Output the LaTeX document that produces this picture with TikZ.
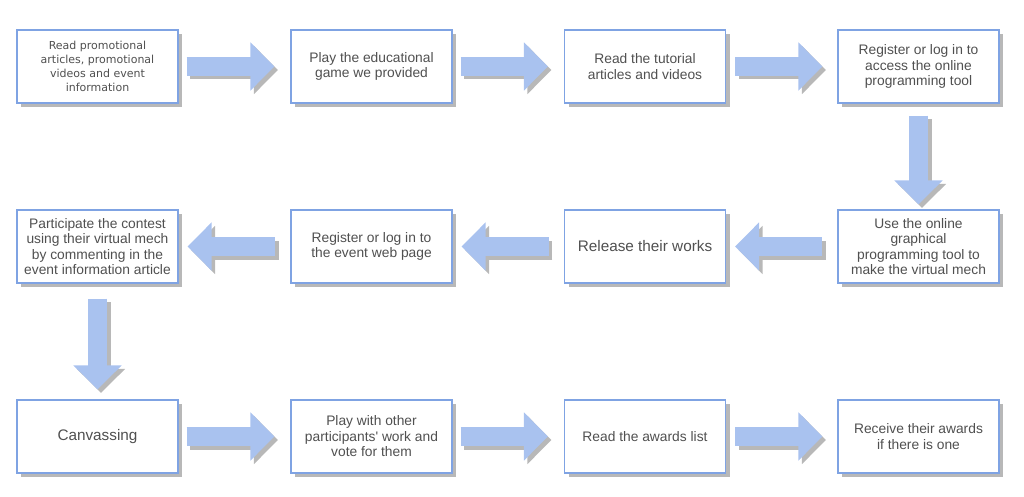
\documentclass[tikz,border=0pt]{standalone}
\usepackage{fontspec}
\setmainfont{Liberation Sans}
\newfontfamily\verd{DejaVu Sans}
\usetikzlibrary{arrows.meta,positioning}
\definecolor{boxline}{HTML}{7FA3E3}
\definecolor{arrowfill}{HTML}{A9C2EF}
\definecolor{shadowgray}{HTML}{B8B8B8}
\definecolor{txt}{HTML}{505050}
\tikzset{
  stepbox/.style={draw=boxline, line width=1.3pt, fill=white, minimum width=161pt, minimum height=73pt,
    align=center, text=txt, inner sep=2pt, font=\fontsize{13.8}{15.5}\selectfont},
  bigarrow/.style={line width=19pt, draw=arrowfill, -{Triangle[width=47pt,length=24pt,fill=arrowfill]}},
  bigshadow/.style={line width=19pt, draw=shadowgray, -{Triangle[width=47pt,length=24pt,fill=shadowgray]}},
}
\newcommand{\flow}[2]{%
  \draw[bigshadow, transform canvas={xshift=3.5pt,yshift=-3.5pt}] #1 -- #2;
  \draw[bigarrow] #1 -- #2;}
\begin{document}
\begin{tikzpicture}[x=1pt,y=-1pt]
\useasboundingbox (0,0) rectangle (1024,497);
% shadows
\foreach \cx/\cy in {97.5/66.5,371.5/66.5,645/66.5,918.5/66.5,97.5/246.5,371.5/246.5,645/246.5,918.5/246.5,97.5/436.5,371.5/436.5,645/436.5,918.5/436.5}{
  \fill[shadowgray] (\cx-80.5+4,\cy-36.5+4) rectangle (\cx+80.5+4,\cy+36.5+4);
}
% boxes
\node[stepbox, font=\verd\fontsize{11}{14}\selectfont] (b1) at (97.5,66.5) {Read promotional\\articles, promotional\\videos and event\\information};
\node[stepbox] (b2) at (371.5,66.5) {Play the educational\\game we provided};
\node[stepbox] (b3) at (645,66.5) {Read the tutorial\\articles and videos};
\node[stepbox] (b4) at (918.5,66.5) {Register or log in to\\access the online\\programming tool};
\node[stepbox] (b5) at (918.5,246.5) {Use the online\\graphical\\programming tool to\\make the virtual mech};
\node[stepbox, font=\fontsize{15.3}{17}\selectfont] (b6) at (645,246.5) {Release their works};
\node[stepbox] (b7) at (371.5,246.5) {Register or log in to\\the event web page};
\node[stepbox] (b8) at (97.5,246.5) {Participate the contest\\using their virtual mech\\by commenting in the\\event information article};
\node[stepbox, font=\fontsize{15.3}{17}\selectfont] (b9) at (97.5,436.5) {Canvassing};
\node[stepbox] (b10) at (371.5,436.5) {Play with other\\participants\textquotesingle{} work and\\vote for them};
\node[stepbox] (b11) at (645,436.5) {Read the awards list};
\node[stepbox] (b12) at (918.5,436.5) {Receive their awards\\if there is one};
% connectors
\flow{([xshift=8pt]b1.east)}{([xshift=-16pt]b2.west)}
\flow{([xshift=8pt]b2.east)}{([xshift=-16pt]b3.west)}
\flow{([xshift=9pt]b3.east)}{([xshift=-15pt]b4.west)}
\flow{([yshift=-12pt]b4.south)}{([yshift=5pt]b5.north)}
\flow{([xshift=-15pt]b5.west)}{([xshift=9pt]b6.east)}
\flow{([xshift=-15pt]b6.west)}{([xshift=9pt]b7.east)}
\flow{([xshift=-15pt]b7.west)}{([xshift=9pt]b8.east)}
\flow{([yshift=-15pt]b8.south)}{([yshift=10pt]b9.north)}
\flow{([xshift=8pt]b9.east)}{([xshift=-16pt]b10.west)}
\flow{([xshift=8pt]b10.east)}{([xshift=-16pt]b11.west)}
\flow{([xshift=9pt]b11.east)}{([xshift=-15pt]b12.west)}
\end{tikzpicture}
\end{document}
